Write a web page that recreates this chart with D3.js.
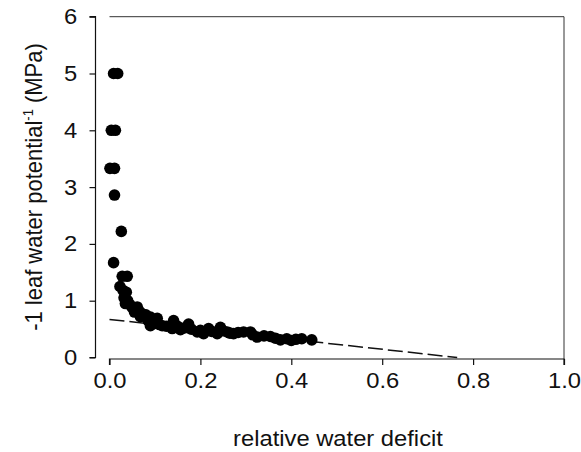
<!DOCTYPE html>
<html>
<head>
<meta charset="utf-8">
<script src="https://cdn.jsdelivr.net/npm/d3@7"></script>
<style>
  html, body { margin: 0; padding: 0; background: #fff; }
  svg { display: block; }
  text { font-family: "Liberation Sans", Arial, sans-serif; fill: #111; }
</style>
</head>
<body>
<svg id="chart" width="581" height="452"></svg>
<script>
// Relative water deficit (x) and inverse leaf water potential (y)
const deficit = [
  0.001, 0.011, 0.004, 0.013, 0.009, 0.018, 0.011, 0.026, 0.009,
  0.028, 0.039, 0.023, 0.030, 0.037, 0.032, 0.040, 0.035, 0.045,
  0.050, 0.061, 0.055, 0.065, 0.072, 0.068, 0.080, 0.090, 0.085,
  0.095, 0.105, 0.100, 0.090, 0.110, 0.116, 0.125, 0.141, 0.138,
  0.150, 0.156, 0.165, 0.174, 0.180, 0.193, 0.200, 0.207, 0.218,
  0.225, 0.237, 0.244, 0.250, 0.259, 0.265, 0.273, 0.283, 0.295,
  0.310, 0.315, 0.325, 0.340, 0.354, 0.365, 0.376, 0.390, 0.400,
  0.410, 0.423, 0.445
];
const invPotential = [
  3.33, 3.33, 4.00, 4.00, 5.00, 5.00, 2.86, 2.22, 1.67,
  1.43, 1.43, 1.25, 1.18, 1.15, 1.05, 1.00, 0.95, 0.93,
  0.88, 0.89, 0.80, 0.82, 0.77, 0.72, 0.75, 0.71, 0.65,
  0.62, 0.69, 0.60, 0.56, 0.58, 0.56, 0.55, 0.65, 0.51,
  0.55, 0.49, 0.52, 0.59, 0.50, 0.45, 0.48, 0.42, 0.51,
  0.46, 0.42, 0.53, 0.47, 0.45, 0.43, 0.42, 0.44, 0.45,
  0.45, 0.40, 0.36, 0.38, 0.37, 0.34, 0.31, 0.33, 0.30,
  0.32, 0.33, 0.31
];

// Linear extrapolation of the straight portion to zero
const fitX = [0, 0.765];
const fitY = [0.67, 0];

const xTicks = [0, 0.2, 0.4, 0.6, 0.8, 1.0];
const yTicks = [0, 1, 2, 3, 4, 5, 6];

// Text in this figure is set slightly wide
const WIDE = "scale(1.08,1)";

const svg = d3.select("#chart");

const x = d3.scaleLinear().domain([0, 1]).range([109.5, 564]);
const y = d3.scaleLinear().domain([0, 6]).range([357.5, 16.7]);

// Frame: top and right borders
svg.append("path")
  .attr("d", `M${x(0)},${y(6)}H${x(1)}V${359}`)
  .attr("fill", "none").attr("stroke", "#333").attr("stroke-width", 1);

// Y axis, offset to the left of the data area
const yAxis = d3.axisLeft(y).tickValues(yTicks).tickFormat(d3.format("d"))
  .tickSize(6).tickPadding(11);
const gy = svg.append("g").attr("transform", "translate(95.5,0)").call(yAxis);

// X axis, offset below the data area
const xAxis = d3.axisBottom(x).tickValues(xTicks).tickFormat(d3.format(".1f"))
  .tickSize(6).tickPadding(7);
const gx = svg.append("g").attr("transform", "translate(0,359)").call(xAxis);

[gx, gy].forEach(g => {
  g.select(".domain").attr("stroke", "#111").attr("stroke-width", 1.2);
  g.selectAll(".tick line").attr("stroke", "#111").attr("stroke-width", 1.2);
  g.selectAll(".tick text")
    .attr("font-family", "'Liberation Sans', Arial, sans-serif")
    .attr("font-size", 22).attr("fill", "#111")
    .attr("transform", WIDE);
});
gx.select(".domain").attr("d", `M${x(0)},6V0H${x(1)}V6`);
gy.select(".domain").attr("d", `M-6,${y(0)}H0V${y(6)}H-6`);

// Dashed regression line
const line = d3.line().x((d, i) => x(fitX[i])).y(d => y(d));
svg.append("path")
  .datum(fitY)
  .attr("d", line)
  .attr("fill", "none")
  .attr("stroke", "#111")
  .attr("stroke-width", 1.5)
  .attr("stroke-dasharray", "15,5");

// Observations
svg.append("g").selectAll("circle")
  .data(deficit.map((d, i) => [d, invPotential[i]]))
  .join("circle")
  .attr("cx", d => x(d[0]))
  .attr("cy", d => y(d[1]))
  .attr("r", 5.8)
  .attr("fill", "#000");

// Axis titles
svg.append("g")
  .attr("transform", `translate(338,446) ${WIDE}`)
  .append("text")
  .attr("text-anchor", "middle")
  .attr("font-size", 22)
  .text("relative water deficit");

const yt = svg.append("g")
  .attr("transform", `translate(42,187) ${WIDE} rotate(-90)`)
  .append("text")
  .attr("text-anchor", "middle")
  .attr("font-size", 22);
yt.append("tspan").text("-1 leaf water potential");
yt.append("tspan").attr("dy", -8).attr("font-size", 13).text("-1");
yt.append("tspan").attr("dy", 8).text(" (MPa)");
</script>
</body>
</html>
